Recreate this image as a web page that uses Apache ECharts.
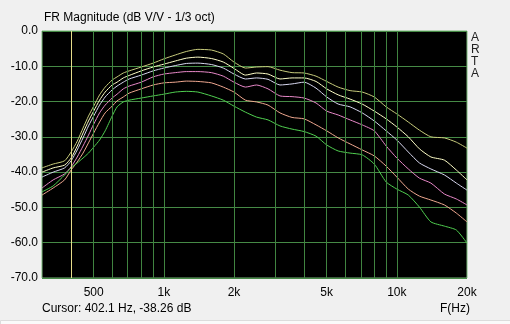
<!DOCTYPE html>
<html><head><meta charset="utf-8">
<script src="https://cdn.jsdelivr.net/npm/echarts@6/dist/echarts.min.js"></script>
<style>html,body{margin:0;padding:0;background:#f0f0f0;}#c{width:510px;height:324px;}</style>
</head><body><div id="c"></div>
<script>
const freqs = [300,335,375,400,425,450,475,500,530,560,600,630,670,710,800,900,1000,1120,1250,1400,1600,1800,2000,2240,2500,2800,3150,3550,4000,4500,5000,5600,6300,7100,8000,9000,10000,11200,12500,14000,16000,18000,20000];
const curveA = [-38.8,-37.7,-36.8,-34.3,-31.2,-27.5,-24.1,-21.3,-18.1,-15.9,-13.9,-13.0,-11.9,-11.3,-10.2,-9.1,-7.9,-6.8,-5.8,-5.2,-5.4,-6.5,-8.8,-10.5,-10.2,-10.1,-11.1,-11.8,-11.9,-12.8,-14.3,-15.9,-16.9,-17.3,-18.7,-21.5,-23.5,-25.8,-28.1,-30.0,-30.3,-31.5,-33.2];
const curveB = [-40.0,-38.8,-38.0,-36.0,-32.6,-28.9,-25.5,-22.7,-19.6,-17.3,-15.3,-14.5,-13.3,-12.6,-11.3,-10.2,-9.4,-8.5,-7.7,-7.4,-7.8,-8.8,-10.6,-12.5,-11.9,-12.2,-13.6,-13.3,-13.3,-14.3,-16.4,-18.1,-19.3,-20.7,-22.7,-24.9,-27.2,-30.0,-33.4,-35.7,-36.6,-39.4,-42.2];
const curveC = [-41.4,-40.0,-38.8,-36.8,-33.7,-30.3,-26.9,-24.1,-21.0,-18.7,-16.7,-15.6,-14.5,-13.6,-12.5,-11.3,-10.5,-9.8,-9.2,-9.1,-9.5,-10.5,-12.2,-13.6,-13.3,-13.7,-15.3,-15.0,-14.5,-16.2,-18.7,-20.7,-21.5,-23.2,-25.5,-28.3,-30.9,-34.3,-37.4,-39.1,-40.8,-43.1,-45.1];
const curveD = [-44.5,-42.2,-40.5,-38.5,-35.7,-32.6,-29.5,-26.4,-23.2,-21.0,-19.0,-17.9,-16.4,-15.6,-14.5,-13.0,-12.2,-11.8,-11.5,-11.5,-11.8,-12.8,-14.5,-15.9,-15.3,-16.4,-18.4,-18.6,-19.0,-20.4,-22.7,-23.8,-25.2,-26.6,-28.3,-32.6,-36.0,-39.1,-41.7,-43.1,-46.2,-47.6,-49.3];
const curveE = [-46.5,-44.5,-42.2,-39.4,-37.1,-34.6,-31.7,-28.9,-25.8,-23.2,-21.3,-19.8,-18.7,-17.6,-16.4,-15.3,-14.7,-14.5,-14.2,-14.3,-14.7,-15.9,-17.3,-19.6,-20.1,-21.0,-23.2,-24.5,-24.9,-26.6,-28.3,-30.3,-32.0,-33.7,-35.4,-38.3,-41.4,-44.8,-46.8,-47.9,-49.3,-51.6,-54.1];
const curveF = [-45.6,-43.9,-40.8,-38.8,-37.4,-36.0,-34.6,-32.9,-30.9,-28.3,-24.1,-21.5,-20.1,-19.6,-19.0,-18.4,-17.9,-17.3,-17.1,-17.3,-18.4,-19.6,-21.3,-23.0,-24.4,-25.2,-26.9,-27.8,-28.5,-29.8,-32.3,-34.0,-34.6,-35.1,-37.7,-42.8,-44.8,-46.5,-49.9,-54.1,-55.3,-56.4,-60.1];
const curveColors = ['#c8cc7c','#ffffc8','#d8d8f0','#e888c8','#f0a890','#50d050'];
const xTickLabels = [500,1000,2000,5000,10000,20000];
const xGridFreqs = [400,500,600,700,800,900,1000,2000,3000,4000,5000,6000,7000,8000,9000,10000];
const yTicks = {min:-70, max:0, interval:10};
const cursorFreq = 402.1;
const cursorDb = -38.26;

const FONT = 'Liberation Sans';
const chart = echarts.init(document.getElementById('c'), null, {renderer:'canvas'});
const curves = [curveA,curveB,curveC,curveD,curveE,curveF];
const series = curves.map((c,k)=>({
  type:'line', data: freqs.map((f,i)=>[f,c[i]]), showSymbol:false, smooth:0.2,
  lineStyle:{color:curveColors[k], width:1}, z:3, silent:true, animation:false
}));
series.unshift({
  type:'line', data:[], z:1, silent:true, animation:false,
  markLine:{silent:true, symbol:'none', animation:false, label:{show:false},
    lineStyle:{color:'#408440', width:1, type:'solid'},
    data: xGridFreqs.map(f=>({xAxis:f}))}
});
series.push({
  type:'line', data:[], z:4, silent:true, animation:false,
  markLine:{silent:true, symbol:'none', animation:false, label:{show:false},
    lineStyle:{color:'#e6dc8a', width:1, type:'solid'},
    data:[{xAxis:cursorFreq}]}
});
chart.setOption({
  backgroundColor:'#f0f0f0',
  animation:false,
  grid:{left:42, top:31, right:43, bottom:46, show:true, backgroundColor:'#000', borderColor:'#78b878', borderWidth:1},
  xAxis:{type:'log', logBase:10, min:300, max:20000,
    axisLine:{show:false}, axisTick:{show:false}, splitLine:{show:false}, minorSplitLine:{show:false},
    axisLabel:{customValues:xTickLabels, margin:9, color:'#000', fontSize:12, fontFamily:FONT,
      formatter:v=> v>=1000 ? (v/1000)+'k' : String(v)}},
  yAxis:{type:'value', min:yTicks.min, max:yTicks.max, interval:yTicks.interval,
    axisLine:{show:false}, axisTick:{show:false},
    splitLine:{show:true, lineStyle:{color:'#468a46', width:1}},
    axisLabel:{margin:4, color:'#000', fontSize:12, fontFamily:FONT, formatter:v=>v.toFixed(1)}},
  graphic:[
    {type:'text', left:44, top:12, style:{text:'FR Magnitude (dB V/V - 1/3 oct)', fill:'#000', font:'12px '+FONT}},
    {type:'text', left:471, top:32, style:{text:'A\nR\nT\nA', fill:'#222', font:'12px '+FONT, lineHeight:12, align:'center', width:12}},
    {type:'text', left:42, top:303, style:{text:'Cursor: '+cursorFreq.toFixed(1)+' Hz, '+cursorDb.toFixed(2)+' dB', fill:'#000', font:'12px '+FONT}},
    {type:'text', left:440, top:303, style:{text:'F(Hz)', fill:'#000', font:'12px '+FONT}},
    {type:'rect', left:0, top:320, shape:{width:510, height:4}, style:{fill:'#fafafa', stroke:'#dcdcdc', lineWidth:1}}
  ],
  series
});
</script></body></html>
